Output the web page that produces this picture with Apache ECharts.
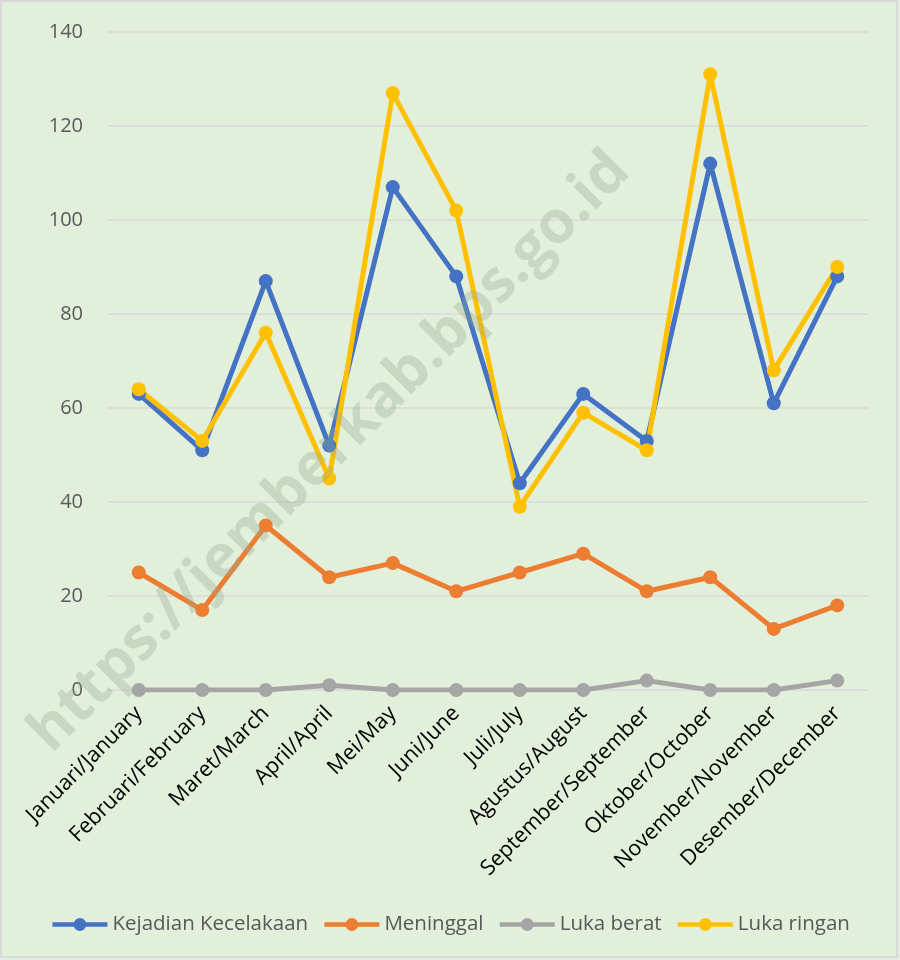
<!DOCTYPE html>
<html>
<head>
<meta charset="utf-8">
<script src="https://cdn.jsdelivr.net/npm/echarts@6/dist/echarts.min.js"></script>
<style>
  html, body { margin: 0; padding: 0; background: #fff; }
  #chart { width: 900px; height: 960px; }
</style>
</head>
<body>
<div id="chart"></div>
<script>
const months = [
  'Januari/January', 'Februari/February', 'Maret/March', 'April/April',
  'Mei/May', 'Juni/June', 'Juli/July', 'Agustus/August',
  'September/September', 'Oktober/October', 'November/November', 'Desember/December'
]
const kejadian = [63, 51, 87, 52, 107, 88, 44, 63, 53, 112, 61, 88]
const meninggal = [25, 17, 35, 24, 27, 21, 25, 29, 21, 24, 13, 18]
const lukaBerat = [0, 0, 0, 1, 0, 0, 0, 0, 2, 0, 0, 2]
const lukaRingan = [64, 53, 76, 45, 127, 102, 39, 59, 51, 131, 68, 90]

const font = 'Open Sans'

const mkSeries = (name, data, color) => ({
  name,
  type: 'line',
  data,
  symbol: 'circle',
  symbolSize: 14,
  lineStyle: { width: 5, color },
  itemStyle: { color },
  z: 3,
})

const chart = echarts.init(document.getElementById('chart'))

chart.setOption({
  backgroundColor: '#E2EFDA',
  animation: false,
  textStyle: { fontFamily: font },
  graphic: [
    {
      type: 'rect',
      shape: { x: 1, y: 1, width: 896, height: 956 },
      style: { fill: 'none', stroke: '#D9D9D9', lineWidth: 2 },
      silent: true,
    },
    {
      // watermark
      type: 'text',
      x: 330,
      y: 452,
      rotation: Math.PI / 4,
      style: {
        text: 'https://jemberkab.bps.go.id',
        font: 'bold 59px "Open Sans"',
        fill: 'rgba(150, 170, 140, 0.33)',
        align: 'center',
        verticalAlign: 'middle',
      },
      z: 10,
      silent: true,
    },
  ],
  grid: { left: 107, right: 31, top: 32, bottom: 270 },
  legend: {
    bottom: 20,
    left: 'center',
    itemWidth: 55,
    itemHeight: 16,
    itemGap: 14,
    lineStyle: { width: 4.5 },
    textStyle: { color: '#595959', fontSize: 20.5, fontFamily: font },
    data: ['Kejadian Kecelakaan', 'Meninggal', 'Luka berat', 'Luka ringan'],
  },
  xAxis: {
    type: 'category',
    data: months,
    boundaryGap: true,
    axisLine: { show: false },
    axisTick: { show: false },
    axisLabel: {
      rotate: 45,
      color: '#000',
      fontSize: 21.5,
      fontFamily: font,
      margin: 20,
      interval: 0,
    },
  },
  yAxis: {
    type: 'value',
    min: 0,
    max: 140,
    interval: 20,
    axisLine: { show: false },
    axisTick: { show: false },
    axisLabel: { color: '#595959', fontSize: 20, fontFamily: font, margin: 24 },
    splitLine: { lineStyle: { color: '#D9D9D9', width: 1.5 } },
  },
  series: [
    mkSeries('Kejadian Kecelakaan', kejadian, '#4472C4'),
    mkSeries('Meninggal', meninggal, '#ED7D31'),
    mkSeries('Luka berat', lukaBerat, '#A5A5A5'),
    mkSeries('Luka ringan', lukaRingan, '#FFC000'),
  ],
})
</script>
</body>
</html>
